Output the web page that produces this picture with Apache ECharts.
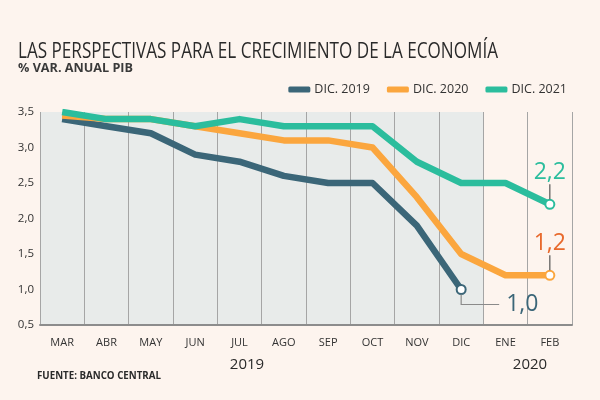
<!DOCTYPE html>
<html>
<head>
<meta charset="utf-8">
<script src="https://cdn.jsdelivr.net/npm/echarts@6/dist/echarts.min.js"></script>
<style>
  html, body { margin: 0; padding: 0; background: #fdf4ee; }
  #chart { width: 600px; height: 400px; }
</style>
</head>
<body>
<div id="chart"></div>
<script>
// meses (mar 2019 - feb 2020)
const meses = ['MAR', 'ABR', 'MAY', 'JUN', 'JUL', 'AGO', 'SEP', 'OCT', 'NOV', 'DIC', 'ENE', 'FEB'];

// expectativas de crecimiento, % var. anual PIB
const dic2019 = [3.4, 3.3, 3.2, 2.9, 2.8, 2.6, 2.5, 2.5, 1.9, 1.0, null, null];
const dic2020 = [3.45, 3.4, 3.4, 3.3, 3.2, 3.1, 3.1, 3.0, 2.3, 1.5, 1.2, 1.2];
const dic2021 = [3.5, 3.4, 3.4, 3.3, 3.4, 3.3, 3.3, 3.3, 2.8, 2.5, 2.5, 2.2];

const nombres = ['DIC. 2019', 'DIC. 2020', 'DIC. 2021'];
const colores = ['#3b6678', '#fba63e', '#2bbd9d'];
const coloresEtiqueta = ['#3b6678', '#e8692c', '#2bbd9d'];

const gris2019 = '#e8ebea';
const crema = '#fdf4ee';
const fuenteTxt = '"Open Sans", "Noto Sans", sans-serif';

const chart = echarts.init(document.getElementById('chart'));

// ancho del texto, para comprimirlo como la fuente condensada del original
const ctx = document.createElement('canvas').getContext('2d');
function ancho(txt, font) {
    ctx.font = font;
    return ctx.measureText(txt).width;
}
function textoAjustado(txt, font, x, y, w, color, va) {
    return {
        type: 'text', x: x, y: y, scaleX: w / ancho(txt, font), z: 10,
        style: { text: txt, font: font, fill: color, verticalAlign: va || 'middle' }
    };
}

function ultimo(arr) {
    let i = arr.length - 1;
    while (arr[i] == null) i--;
    return i;
}

function serie(i, data) {
    const last = ultimo(data);
    return {
        name: nombres[i],
        type: 'line',
        data: data.map((v, k) => k === last ? {
            value: v,
            itemStyle: { color: '#fff', borderColor: colores[i], borderWidth: 2 }
        } : v),
        symbol: 'circle',
        symbolSize: (v, p) => p.dataIndex === last ? 9 : 0,
        showAllSymbol: true,
        lineStyle: { width: 6.5, color: colores[i], join: 'round' },
        itemStyle: { color: colores[i] },
        z: 3 + i,
        animation: false
    };
}

const option = {
    backgroundColor: crema,
    color: colores,
    legend: {
        right: 28, top: 78,
        itemWidth: 22, itemHeight: 6, itemGap: 17,
        icon: 'roundRect',
        data: nombres.map((n, i) => ({ name: n, itemStyle: { color: colores[i] } })),
        textStyle: { fontFamily: fuenteTxt, fontSize: 12.5, color: '#333', padding: [0, 0, 0, -1] }
    },
    grid: { left: 40, right: 28, top: 112, bottom: 75 },
    xAxis: {
        type: 'category',
        data: meses,
        boundaryGap: true,
        axisTick: { show: false },
        axisLine: { lineStyle: { color: '#8c8c8c', width: 2 } },
        axisLabel: { fontFamily: fuenteTxt, fontSize: 11, color: '#333', margin: 12 },
        splitLine: { show: true, lineStyle: { color: '#a5a5a5', width: 1 } },
        splitArea: {
            show: true,
            areaStyle: { color: meses.map((m, k) => k < 10 ? gris2019 : crema) }
        }
    },
    yAxis: {
        type: 'value',
        min: 0.5, max: 3.5, interval: 0.5,
        axisLine: { show: false },
        axisTick: { show: false },
        axisLabel: {
            fontFamily: fuenteTxt, fontSize: 11.5, color: '#333', margin: 6,
            formatter: v => v.toFixed(1).replace('.', ',')
        },
        splitLine: { lineStyle: { color: '#b3b3b3', type: [3, 2], width: 1 } }
    },
    series: [serie(0, dic2019), serie(1, dic2020), serie(2, dic2021)]
};

chart.setOption(option);

// etiquetas finales con sus guías
const series = [dic2019, dic2020, dic2021];
const graficos = [];
series.forEach((data, i) => {
    const k = ultimo(data);
    const p = chart.convertToPixel({ seriesIndex: i }, [k, data[k]]);
    const txt = data[k].toFixed(1).replace('.', ',');
    if (i === 0) {
        graficos.push({
            type: 'polyline', z: 10,
            shape: { points: [[p[0], p[1] + 5], [p[0], p[1] + 15], [p[0] + 38, p[1] + 15]] },
            style: { stroke: '#8a8a8a', lineWidth: 1.2, fill: null }
        });
        graficos.push({
            type: 'text', z: 10, x: p[0] + 45, y: p[1] + 15,
            style: { text: txt, fill: coloresEtiqueta[i], font: '23px ' + fuenteTxt, verticalAlign: 'middle' }
        });
    } else {
        graficos.push({
            type: 'line', z: 10,
            shape: { x1: p[0], y1: p[1] - 5, x2: p[0], y2: p[1] - 20 },
            style: { stroke: '#555', lineWidth: 1.2 }
        });
        graficos.push({
            type: 'text', z: 10, x: p[0], y: p[1] - 20,
            style: { text: txt, fill: coloresEtiqueta[i], font: '23px ' + fuenteTxt, align: 'center', verticalAlign: 'bottom' }
        });
    }
});

// títulos, años y fuente
graficos.push(
    textoAjustado('LAS PERSPECTIVAS PARA EL CRECIMIENTO DE LA ECONOMÍA', '22px ' + fuenteTxt, 18, 52, 480, '#2a2a2a'),
    textoAjustado('% VAR. ANUAL PIB', 'bold 12px ' + fuenteTxt, 18, 69, 115, '#3a3a3a'),
    { type: 'text', x: 247, y: 365, style: { text: '2019', fill: '#2a2a2a', font: '15px ' + fuenteTxt, align: 'center', verticalAlign: 'middle' } },
    { type: 'text', x: 530, y: 365, style: { text: '2020', fill: '#2a2a2a', font: '15px ' + fuenteTxt, align: 'center', verticalAlign: 'middle' } },
    textoAjustado('FUENTE: BANCO CENTRAL', 'bold 10px ' + fuenteTxt, 37, 376, 124, '#2a2a2a')
);

chart.setOption({ graphic: graficos });
</script>
</body>
</html>
